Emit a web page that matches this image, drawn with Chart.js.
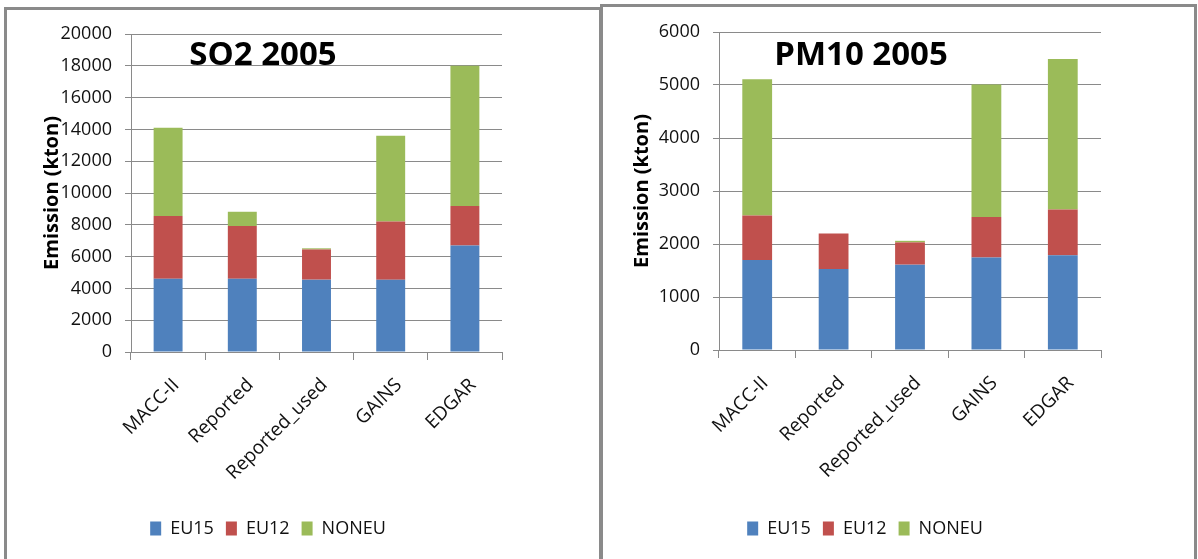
<!DOCTYPE html>
<html lang="en">
<head>
    <meta charset="UTF-8">
    <title>SO2 and PM10 emissions 2005</title>
    <script src="https://cdn.jsdelivr.net/npm/chart.js"></script>
    <style>
        body { margin: 0; background: #fff; width: 1198px; height: 559px; overflow: hidden; position: relative; font-family: "Open Sans", sans-serif; }
        .panel { position: absolute; border: 3px solid #8a8a8a; border-bottom: none; box-sizing: border-box; }
        #panelLeft { left: 4px; top: 7px; width: 598px; height: 560px; }
        #panelRight { left: 600px; top: 4px; width: 597px; height: 560px; }
        .wrap { position: absolute; }
        #wrapLeft { left: 7px; top: 10px; width: 592px; height: 549px; }
        #wrapRight { left: 603px; top: 7px; width: 590px; height: 552px; }
    </style>
</head>
<body>
    <div class="panel" id="panelLeft"></div>
    <div class="panel" id="panelRight"></div>
    <div class="wrap" id="wrapLeft"><canvas id="so2Chart"></canvas></div>
    <div class="wrap" id="wrapRight"><canvas id="pm10Chart"></canvas></div>
    <script>
        // inventories on the x axis
        const sources = ['MACC-II', 'Reported', 'Reported_used', 'GAINS', 'EDGAR'];
        const regions = ['EU15', 'EU12', 'NONEU'];

        // SO2 2005, kton
        const so2EU15 = [4600, 4600, 4550, 4550, 6700];
        const so2EU12 = [3950, 3320, 1900, 3650, 2480];
        const so2NONEU = [5550, 900, 70, 5400, 8820];

        // PM10 2005, kton
        const pm10EU15 = [1700, 1530, 1610, 1745, 1790];
        const pm10EU12 = [840, 670, 420, 765, 860];
        const pm10NONEU = [2570, 0, 30, 2500, 2840];

        const so2Ticks = { max: 20000, step: 2000 };
        const pm10Ticks = { max: 6000, step: 1000 };

        const colors = ['#4f81bd', '#c0504d', '#9bbb59'];
        const gridColor = '#8a8a8a';
        const textColor = '#111';

        Chart.defaults.font.family = '"Open Sans", sans-serif';
        Chart.defaults.color = textColor;
        Chart.defaults.animation = false;

        // big title drawn inside the plot area, like the original
        const innerTitle = {
            id: 'innerTitle',
            afterDatasetsDraw(chart, args, opts) {
                const ctx = chart.ctx;
                ctx.save();
                ctx.font = 'bold 33px "Open Sans", sans-serif';
                ctx.fillStyle = '#000';
                ctx.textAlign = 'center';
                ctx.textBaseline = 'middle';
                ctx.fillText(opts.text, opts.x, opts.y);
                ctx.restore();
            }
        };

        function makeChart(id, series, ticks, lay) {
            const ctx = document.getElementById(id).getContext('2d');
            return new Chart(ctx, {
                type: 'bar',
                data: {
                    labels: sources,
                    datasets: series.map((values, i) => ({
                        label: regions[i],
                        data: values,
                        backgroundColor: colors[i],
                        borderWidth: 0,
                        categoryPercentage: 1,
                        barPercentage: 0.39
                    }))
                },
                options: {
                    responsive: true,
                    maintainAspectRatio: false,
                    layout: { padding: { left: lay.padL, right: lay.padR, top: lay.padT, bottom: lay.padB } },
                    scales: {
                        x: {
                            stacked: true,
                            grid: { drawOnChartArea: false, drawTicks: true, tickLength: 8, color: gridColor, offset: true },
                            border: { color: gridColor },
                            ticks: { font: { size: 19 }, color: textColor, maxRotation: 45, minRotation: 45, padding: 14, labelOffset: 8 },
                            afterFit(scale) { scale.height = lay.xH; }
                        },
                        y: {
                            stacked: true,
                            min: 0,
                            max: ticks.max,
                            grid: { color: gridColor, tickLength: 6 },
                            border: { color: gridColor },
                            ticks: {
                                stepSize: ticks.step, font: { size: 18 }, color: textColor, padding: 13,
                                callback: (v) => String(v)
                            },
                            title: {
                                display: true,
                                text: 'Emission (kton)',
                                font: { size: 20, weight: 'bold' },
                                color: '#000',
                                padding: { top: lay.titlePad, bottom: 0 }
                            },
                            afterFit(scale) { scale.width = lay.yW; }
                        }
                    },
                    plugins: {
                        legend: {
                            position: 'bottom',
                            labels: { boxWidth: 11, boxHeight: 14, padding: 12, font: { size: 18 }, color: textColor }
                        },
                        tooltip: { enabled: false },
                        innerTitle: { text: lay.title, x: lay.tx, y: lay.ty }
                    }
                },
                plugins: [innerTitle]
            });
        }

        makeChart('so2Chart', [so2EU15, so2EU12, so2NONEU], so2Ticks,
            { padL: 27, padR: 97, padT: 24, padB: 11.5, xH: 155.5, yW: 97, titlePad: 6, title: 'SO2 2005', tx: 256, ty: 46 });
        makeChart('pm10Chart', [pm10EU15, pm10EU12, pm10NONEU], pm10Ticks,
            { padL: 26, padR: 92, padT: 25, padB: 11.5, xH: 157.5, yW: 90, titlePad: 1, title: 'PM10 2005', tx: 258, ty: 49 });
    </script>
</body>
</html>
